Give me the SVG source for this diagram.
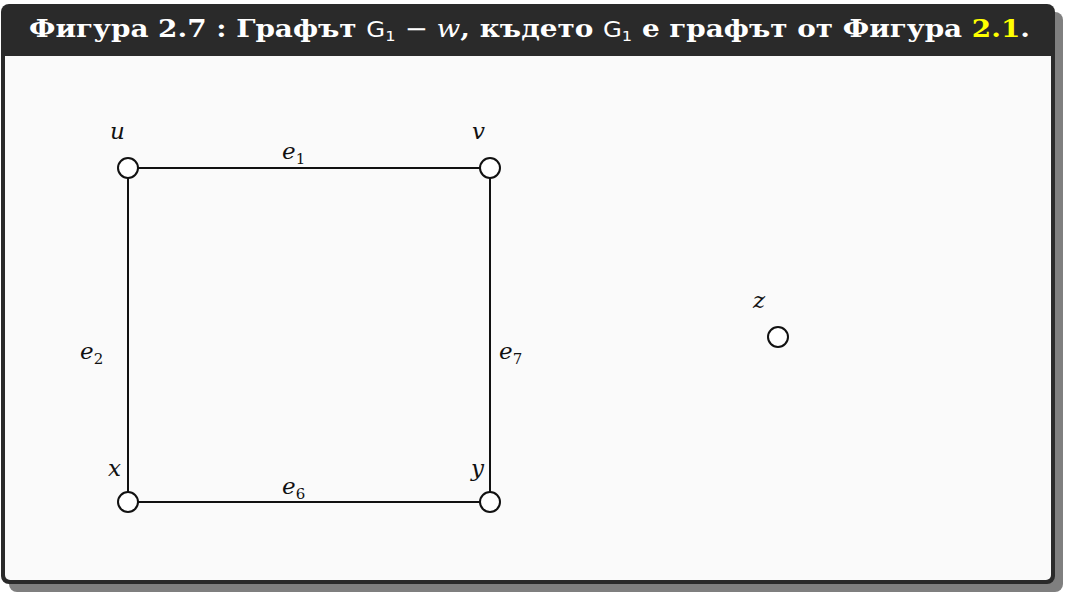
<svg xmlns="http://www.w3.org/2000/svg" width="1065" height="594" viewBox="0 0 1065 594">
<style>
.frame{fill:#2a2a2a}
.shadow{fill:#7f7f7f}
.inner{fill:#fafafa}
.title{font-family:"DejaVu Serif","Liberation Serif",serif;font-size:24px;font-weight:bold;fill:#ffffff}
.sans{font-family:"DejaVu Sans","Liberation Sans",sans-serif;font-weight:normal}
.edge{stroke:#111;stroke-width:2;fill:none}
.node circle{fill:#ffffff;stroke:#111;stroke-width:2}
.lbl{font-family:"DejaVu Serif","Liberation Serif",serif;font-style:italic;font-size:23px;fill:#111}
.sub{font-size:15px;font-style:normal}
</style>
<rect class="shadow" x="9" y="12" width="1054" height="580" rx="8"/>
<rect class="frame" x="1" y="4" width="1054" height="580" rx="8"/>
<rect class="inner" x="5" y="56" width="1046" height="524" rx="5"/>
<rect class="inner" x="5" y="56" width="1046" height="10"/>
<text class="title" x="29" y="37" textLength="1001" lengthAdjust="spacingAndGlyphs">Фигура 2.7 : Графът <tspan class="sans" style="font-size:21px">G</tspan><tspan class="sans" style="font-size:14px" dy="4">1</tspan><tspan dy="-4" style="font-weight:normal"> − </tspan><tspan style="font-style:italic;font-weight:normal">w</tspan>, където <tspan class="sans" style="font-size:21px">G</tspan><tspan class="sans" style="font-size:14px" dy="4">1</tspan><tspan dy="-4"> е графът от Фигура </tspan><tspan fill="#ffff00">2.1</tspan>.</text>
<g id="connectors">
<line class="edge" x1="128" y1="168" x2="490" y2="168"/>
<line class="edge" x1="128" y1="168" x2="128" y2="502"/>
<line class="edge" x1="490" y1="168" x2="490" y2="502"/>
<line class="edge" x1="128" y1="502" x2="490" y2="502"/>
<text class="lbl" x="282" y="159">e<tspan class="sub" dy="5">1</tspan></text>
<text class="lbl" x="80" y="359">e<tspan class="sub" dy="5">2</tspan></text>
<text class="lbl" x="499" y="359">e<tspan class="sub" dy="5">7</tspan></text>
<text class="lbl" x="282" y="494">e<tspan class="sub" dy="5">6</tspan></text>
</g>
<g id="node-u" class="node"><circle cx="128" cy="168" r="10"/><text class="lbl" x="110" y="139">u</text></g>
<g id="node-v" class="node"><circle cx="490" cy="168" r="10"/><text class="lbl" x="472" y="139">v</text></g>
<g id="node-x" class="node"><circle cx="128" cy="502" r="10"/><text class="lbl" x="108" y="476">x</text></g>
<g id="node-y" class="node"><circle cx="490" cy="502" r="10"/><text class="lbl" x="471" y="476">y</text></g>
<g id="node-z" class="node"><circle cx="778" cy="337" r="10"/><text class="lbl" x="753" y="308">z</text></g>
</svg>
